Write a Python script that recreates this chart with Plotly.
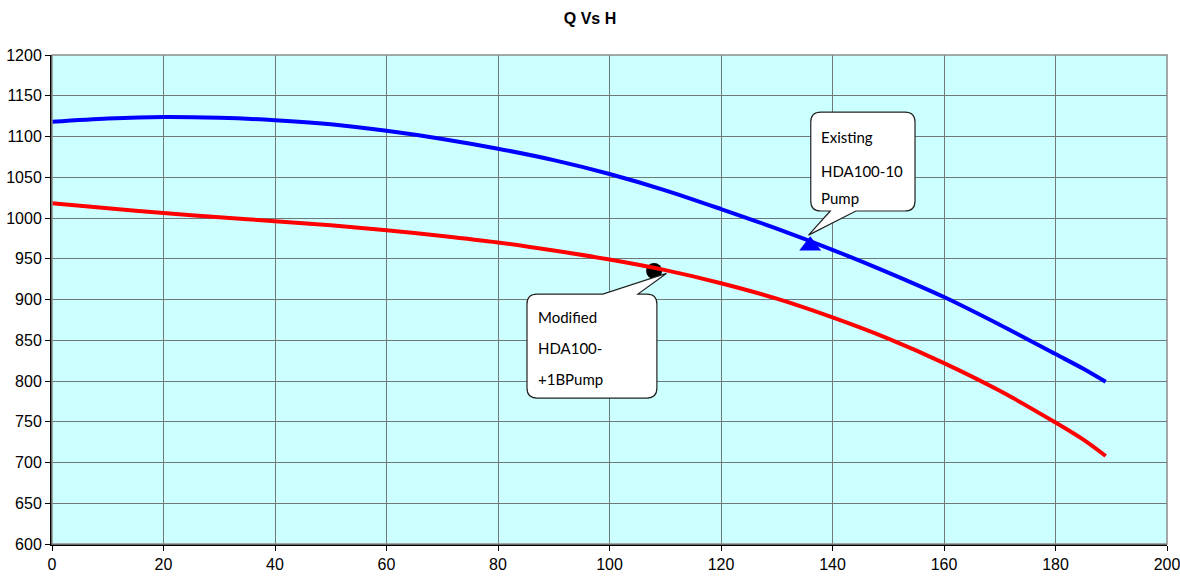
import plotly.graph_objects as go

# Flow (Q) and head (H) readings for the two pump curves
q = [0, 10, 20, 30, 40, 50, 60, 70, 80, 90, 100, 110, 120, 130, 140, 150, 160, 170, 180, 185, 189]
h_existing = [1118, 1122, 1124, 1123, 1120, 1115, 1107, 1097, 1085, 1071, 1054, 1034, 1011, 987,
              961, 933, 903, 869, 833, 815, 799]
h_modified = [1018, 1012, 1006, 1001, 996, 991, 985, 978, 970, 960, 949, 936, 920, 901,
              878, 852, 822, 788, 749, 728, 708]

# Operating points
op_existing_q, op_existing_h = [136], [966]
op_modified_q, op_modified_h = [108], [935]

x_ticks = [0, 20, 40, 60, 80, 100, 120, 140, 160, 180, 200]
y_ticks = [600, 650, 700, 750, 800, 850, 900, 950, 1000, 1050, 1100, 1150, 1200]

label_existing = ["Existing", "HDA100-10", "Pump"]
label_modified = ["Modified", "HDA100-", "+1BPump"]

TICK_FONT = dict(family="Liberation Sans, Arial", size=16, color="#000")
CALLOUT_FONT = dict(family="Lato, Open Sans, sans-serif", size=15, color="#000")

fig = go.Figure()

# markers first so the curves run across them
fig.add_trace(go.Scatter(x=op_existing_q, y=op_existing_h, mode="markers",
                         marker=dict(symbol="triangle-up", size=19, color="#0000FF"),
                         showlegend=False, hoverinfo="skip"))
fig.add_trace(go.Scatter(x=op_modified_q, y=op_modified_h, mode="markers",
                         marker=dict(symbol="circle", size=16, color="#000000"),
                         showlegend=False, hoverinfo="skip"))
fig.add_trace(go.Scatter(x=q, y=h_existing, mode="lines",
                         line=dict(color="#0000FF", width=4, shape="spline", smoothing=0.8),
                         name="Existing HDA100-10 Pump", showlegend=False))
fig.add_trace(go.Scatter(x=q, y=h_modified, mode="lines",
                         line=dict(color="#FF0000", width=4, shape="spline", smoothing=0.8),
                         name="Modified HDA100-+1BPump", showlegend=False))


def bubble(x0, x1, y0, y1, wa, wb, tip, side, rx=1.8, ry=12.3):
    """Rounded callout box (data units) with a wedge on the top or bottom edge."""
    tx, ty = tip
    p = [f"M {x0 + rx},{y1}"]
    if side == "top":
        p += [f"L {wa},{y1}", f"L {tx},{ty}", f"L {wb},{y1}"]
    p += [f"L {x1 - rx},{y1}", f"Q {x1},{y1} {x1},{y1 - ry}",
          f"L {x1},{y0 + ry}", f"Q {x1},{y0} {x1 - rx},{y0}"]
    if side == "bottom":
        p += [f"L {wb},{y0}", f"L {tx},{ty}", f"L {wa},{y0}"]
    p += [f"L {x0 + rx},{y0}", f"Q {x0},{y0} {x0},{y0 + ry}",
          f"L {x0},{y1 - ry}", f"Q {x0},{y1} {x0 + rx},{y1}", "Z"]
    return " ".join(p)


shapes = [
    dict(type="path", xref="x", yref="y", layer="above",
         path=bubble(136.1, 154.8, 1008.6, 1130, 139.6, 144.2, (135.7, 979), "bottom"),
         fillcolor="#FFFFFF", line=dict(color="#222", width=1.2)),
    dict(type="path", xref="x", yref="y", layer="above",
         path=bubble(85.2, 108.5, 779, 906.7, 98.8, 105.1, (110.2, 932), "top"),
         fillcolor="#FFFFFF", line=dict(color="#222", width=1.2)),
    # light frame on the top / right of the plotting area
    dict(type="rect", xref="paper", yref="paper", x0=0, x1=1, y0=0, y1=1,
         line=dict(color="#8c8c8c", width=1.5), layer="above"),
]

annotations = []
for txt, yv in zip(label_existing, [1099, 1058, 1024]):
    annotations.append(dict(x=137.6, y=yv, xref="x", yref="y", text=txt, showarrow=False,
                            xanchor="left", yanchor="middle", font=CALLOUT_FONT))
for txt, yv in zip(label_modified, [878, 840, 803]):
    annotations.append(dict(x=86.8, y=yv, xref="x", yref="y", text=txt, showarrow=False,
                            xanchor="left", yanchor="middle", font=CALLOUT_FONT))

fig.update_layout(
    width=1180, height=580,
    margin=dict(l=52, r=13, t=55, b=36, autoexpand=False),
    paper_bgcolor="#FFFFFF",
    plot_bgcolor="#CCFFFF",
    title=dict(text="<b>Q Vs H</b>", x=0.5, xanchor="center", y=0.969, yanchor="middle",
               font=dict(family="Liberation Sans, Arial", size=16, color="#000")),
    shapes=shapes,
    annotations=annotations,
    showlegend=False,
)

fig.update_xaxes(range=[0, 200], tickvals=x_ticks, ticks="outside", ticklen=5, tickcolor="#000",
                 showgrid=True, gridcolor="#6e7a7a", gridwidth=1, zeroline=False, automargin=False,
                 ticklabeloverflow="allow",
                 showline=True, linecolor="#000", linewidth=2, tickfont=TICK_FONT)
fig.update_yaxes(range=[600, 1200], tickvals=y_ticks, ticks="outside", ticklen=5, tickcolor="#000",
                 showgrid=True, gridcolor="#6e7a7a", gridwidth=1, zeroline=False, automargin=False,
                 ticklabeloverflow="allow",
                 showline=True, linecolor="#000", linewidth=2, tickfont=TICK_FONT)

fig.write_html("out.html")
